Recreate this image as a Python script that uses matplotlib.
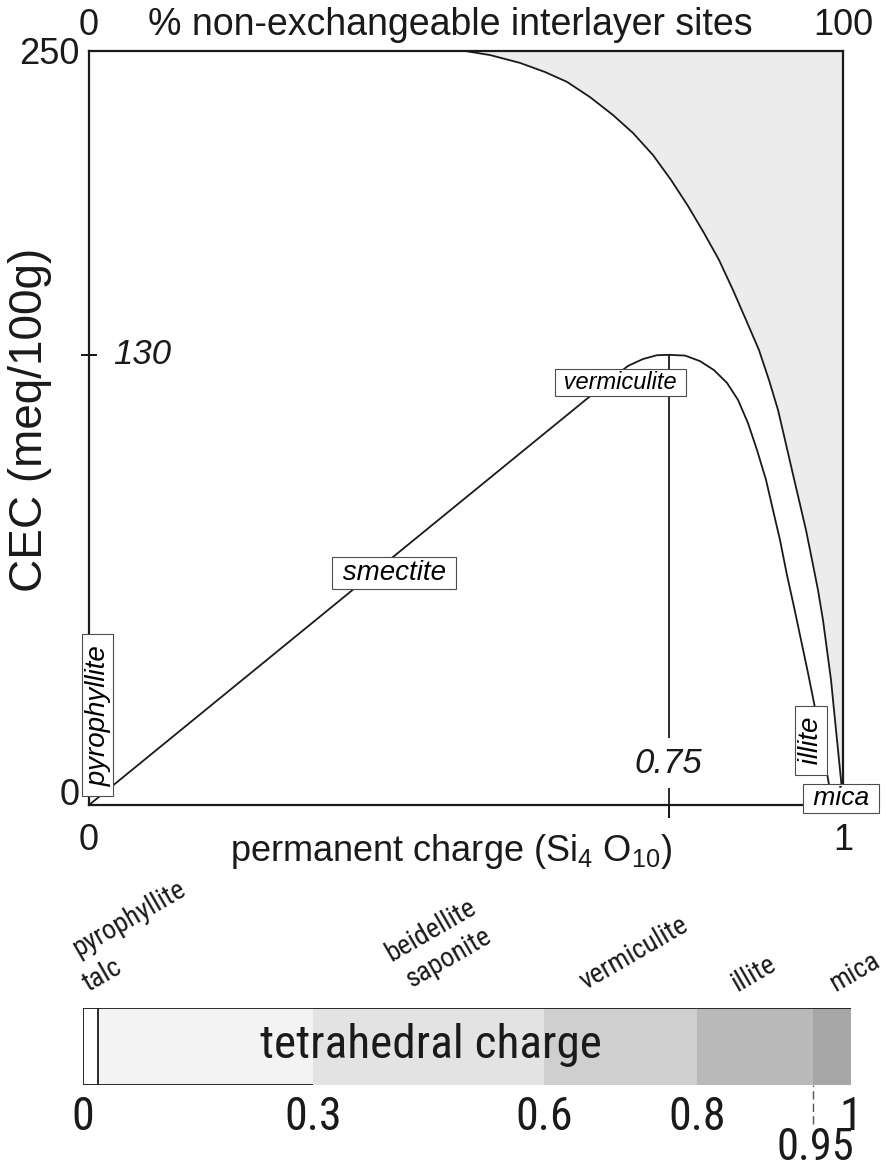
import numpy as np
import matplotlib.pyplot as plt

plt.rcParams['font.family'] = ['Liberation Sans', 'DejaVu Sans']
plt.rcParams['mathtext.fontset'] = 'custom'
plt.rcParams['mathtext.rm'] = 'Liberation Sans'

NARROW = ['Arial Narrow', 'Liberation Sans Narrow', 'Roboto Condensed',
          'Archivo Narrow', 'PT Sans Narrow', 'Liberation Sans']
INK = '#1a1a1a'

# upper CEC envelope (shaded side = non-exchangeable sites)
outer_charge = [0.4864, 0.5187, 0.5575, 0.5898, 0.6183, 0.6480, 0.6778, 0.7037,
                0.7295, 0.7531, 0.7775, 0.8005, 0.8220, 0.8421, 0.8608, 0.8794,
                0.8938, 0.9067, 0.9168, 0.9268, 0.9368, 0.9469, 0.9555, 0.9641,
                0.9713, 0.9770, 0.9828, 0.9871, 0.9914, 0.9957, 0.9986, 1.0]
outer_cec = [250, 248.4, 245.3, 241.7, 237.8, 231.8, 224.7, 217.6,
             208.9, 199.1, 188.8, 178.1, 167.5, 155.6, 143.8, 131.9,
             122.7, 114.1, 105.4, 96.7, 88.1, 79.4, 70.8, 62.1,
             53.4, 44.8, 36.1, 27.4, 18.8, 10.1, 4.3, 0]

# pyrophyllite -> smectite -> vermiculite -> illite -> mica path
inner_charge = [0, 0.6610, 0.6804, 0.6972, 0.7166, 0.7347, 0.75, 0.7732, 0.7947,
                0.8148, 0.8335, 0.8493, 0.8636, 0.8766, 0.8895, 0.8995, 0.9096,
                0.9196, 0.9297, 0.9397, 0.9498, 0.9584, 0.9684, 0.9770, 0.9813, 1.0]
inner_cec = [0, 120.4, 123.9, 126.8, 128.8, 129.9, 130, 129.8, 128.2,
             125.6, 121.9, 117.0, 110.3, 102.5, 93.9, 85.2, 76.5,
             66.4, 57.2, 47.7, 38.1, 29.5, 18.8, 9.2, 4.3, 0]

peak_charge = 0.75
peak_cec = 130

# tetrahedral charge bar
tetra_bounds = [0, 0.02, 0.3, 0.6, 0.8, 0.95, 1.0]
tetra_colors = ['#ffffff', '#f3f3f3', '#e3e3e3', '#cfcfcf', '#b9b9b9', '#a7a7a7']
bar_ticks = [0, 0.3, 0.6, 0.8, 1]
bar_tick_labels = ['0', '0.3', '0.6', '0.8', '1']
bar_minerals = ['pyrophyllite', 'talc', 'beidellite', 'saponite',
                'vermiculite', 'illite', 'mica']

# the axes of the schematic are stretched piecewise between labelled values
X_KNOTS = ([0.0, 0.75, 1.0], [0.0, 0.769, 1.0])
Y_KNOTS = ([0.0, 130.0, 250.0], [0.0, 0.597, 1.0])


def piecewise(v, a, b):
    v = np.asarray(v, dtype=float)
    lo = (b[1] - b[0]) / (a[1] - a[0])
    hi = (b[-1] - b[-2]) / (a[-1] - a[-2])
    out = np.interp(v, a, b)
    out = np.where(v < a[0], b[0] + (v - a[0]) * lo, out)
    out = np.where(v > a[-1], b[-1] + (v - a[-1]) * hi, out)
    return out


def knot_scale(src, dst):
    return (lambda v: piecewise(v, src, dst),
            lambda v: piecewise(v, dst, src))


fig = plt.figure(figsize=(8.86, 11.73), dpi=100)

ax = fig.add_axes([89 / 886, 1 - 805 / 1173, 754 / 886, 754 / 1173])
ax.set_xscale('function', functions=knot_scale(*X_KNOTS))
ax.set_yscale('function', functions=knot_scale(*Y_KNOTS))
ax.set_xlim(0, 1)
ax.set_ylim(0, 250)

ax.fill_between(outer_charge, outer_cec, 250, color='#ececec', lw=0, zorder=1)
ax.plot(outer_charge, outer_cec, color=INK, lw=1.3, zorder=2)
ax.plot(inner_charge, inner_cec, color=INK, lw=1.3, zorder=2)
ax.vlines(peak_charge, 0, peak_cec, color=INK, lw=1.3, zorder=2)

for sp in ax.spines.values():
    sp.set_linewidth(1.6)
    sp.set_color(INK)

ax.set_xticks([0, 1])
ax.set_xticklabels(['0', '1'])
ax.set_yticks([0, 250])
ax.set_yticklabels(['0', '250'])
ax.tick_params(which='major', length=0, labelsize=26, colors=INK)
ax.tick_params(axis='x', which='major', pad=13)
ax.tick_params(axis='y', which='major', pad=6.5)
ax.get_yticklabels()[0].set_verticalalignment('baseline')
ax.set_xticks([peak_charge], minor=True)
ax.set_yticks([peak_cec], minor=True)
ax.tick_params(axis='x', which='minor', direction='out', length=9.5, width=1.3)
ax.tick_params(axis='y', which='minor', direction='inout', length=12, width=1.3)

ax.text(0.032, peak_cec, str(peak_cec), transform=ax.get_yaxis_transform(),
        ha='left', va='center', size=25, style='italic', color=INK)
ax.text(peak_charge, 0.0557, '0.75', transform=ax.get_xaxis_transform(),
        ha='center', va='center', size=25, style='italic', color=INK, zorder=3,
        bbox=dict(fc='white', ec='none', pad=6))

box = dict(boxstyle='square,pad=0.1', fc='white', ec='#4d4d4d', lw=0.8)
ax.text(0.6875, 122, ' vermiculite ', size=17, style='italic', ha='center',
        va='center', bbox=box, zorder=4)
ax.text(0.3945, 67, ' smectite ', size=20, style='italic', ha='center',
        va='center', bbox=box, zorder=4)
ax.text(0.011, 26, ' pyrophyllite ', size=20, style='italic', rotation=90,
        ha='center', va='center', bbox=box, zorder=4)
ax.text(0.954, 18.6, ' illite ', size=20, style='italic', rotation=90,
        ha='center', va='center', bbox=box, zorder=4)
ax.text(0.997, 1.9, ' mica ', size=19, style='italic', ha='center',
        va='center', bbox=box, zorder=4)

ax.text(-0.078, 0.5106, 'CEC (meq/100g)', transform=ax.transAxes, rotation=90,
        ha='center', va='center', size=33, color=INK)
ax.text(0.4808, -0.0743, r'permanent charge (Si$\mathregular{_4}$ O$\mathregular{_{10}}$)',
        transform=ax.transAxes, ha='center', va='baseline', size=26, color=INK)

ax_top = ax.twiny()
ax_top.set_xlim(0, 100)
ax_top.set_xticks([0, 100])
ax_top.tick_params(axis='x', length=0, labelsize=26, pad=6, colors=INK)
for sp in ax_top.spines.values():
    sp.set_visible(False)
ax.text(0.479, 1.0212, '% non-exchangeable interlayer sites', transform=ax.transAxes,
        ha='center', va='baseline', size=27, color=INK)

# tetrahedral charge bar
ax_bar = fig.add_axes([83 / 886, 1 - 1085 / 1173, 768 / 886, 77 / 1173])
ax_bar.set_xlim(0, 1)
ax_bar.set_ylim(0, 1)
ax_bar.barh(0.5, np.diff(tetra_bounds), left=tetra_bounds[:-1], height=1,
            color=tetra_colors, lw=0)
ax_bar.hlines(1, tetra_bounds[0], tetra_bounds[-1], color=INK, lw=1.3)
ax_bar.hlines(0, tetra_bounds[0], tetra_bounds[2], color=INK, lw=1.3)
ax_bar.vlines(tetra_bounds[:2], 0, 1, color=INK, lw=1.3)
for sp in ax_bar.spines.values():
    sp.set_visible(False)
ax_bar.set_yticks([])
ax_bar.set_xticks(bar_ticks)
ax_bar.set_xticklabels(bar_tick_labels, fontfamily=NARROW, fontsize=33, color=INK)
ax_bar.tick_params(axis='x', length=0, pad=7)

ax_bar.vlines(tetra_bounds[5], -0.5, 0, color='#555555', lw=1,
              linestyles=(0, (6, 3)), clip_on=False)
ax_bar.text(tetra_bounds[5] + 0.004, -0.55, '0.95', ha='center', va='top', size=32,
            family=NARROW, color=INK)
ax_bar.text(0.453, 0.52, 'tetrahedral charge', ha='center', va='center', size=34,
            family=NARROW, color=INK)

label_pos = [(-0.006, 1.66), (0.008, 1.21), (0.402, 1.6), (0.428, 1.26),
             (0.654, 1.23), (0.852, 1.21), (0.979, 1.21)]
for name, (lx, ly) in zip(bar_minerals, label_pos):
    ax_bar.text(lx, ly, name, rotation=30, rotation_mode='anchor', ha='left',
                va='baseline', size=20, family=NARROW, color=INK, clip_on=False)

fig.savefig('out.png', dpi=100)
